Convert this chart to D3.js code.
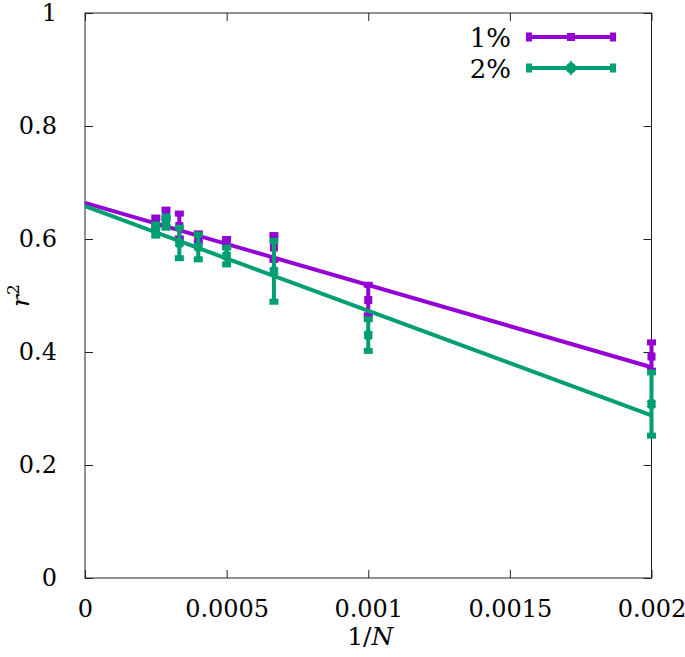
<!DOCTYPE html>
<html><head><meta charset="utf-8">
<script src="https://cdn.jsdelivr.net/npm/d3@7"></script>
<style>body{margin:0;background:#fff}svg{display:block}text{font-family:"DejaVu Serif","Liberation Serif",serif;fill:#000}</style>
</head><body>
<script>
// Data
const invN = [0.00025, 0.000286, 0.000333, 0.0004, 0.0005, 0.000667, 0.001, 0.002];
const r2_1 = [0.630, 0.644, 0.623, 0.602, 0.593, 0.585, 0.492, 0.392];
const err_1 = [0.008, 0.008, 0.022, 0.008, 0.007, 0.022, 0.027, 0.025];
const r2_2 = [0.616, 0.630, 0.593, 0.586, 0.570, 0.543, 0.430, 0.308];
const err_2 = [0.010, 0.010, 0.027, 0.022, 0.015, 0.054, 0.028, 0.056];
const fitX = [0, 0.002];
const fit_1 = [0.664, 0.373];
const fit_2 = [0.658, 0.288];
const xTicks = [0, 0.0005, 0.001, 0.0015, 0.002];
const xTickLabels = ["0", "0.0005", "0.001", "0.0015", "0.002"];
const yTicks = [0, 0.2, 0.4, 0.6, 0.8, 1];
const yTickLabels = ["0", "0.2", "0.4", "0.6", "0.8", "1"];
const seriesNames = ["1%", "2%"];
const colors = ["#9400d3", "#009e73"];

const FONT = 24;
const W = 685, H = 657;
const L = 85, R = 651.5, T = 13, B = 578;
const svg = d3.select("body").append("svg").attr("width", W).attr("height", H);
const x = d3.scaleLinear().domain([0, 0.002]).range([L, R]);
const y = d3.scaleLinear().domain([0, 1]).range([B, T]);

// frame
svg.append("rect").attr("x", L).attr("y", T).attr("width", R - L).attr("height", B - T)
  .attr("fill", "none").attr("stroke", "#222").attr("stroke-width", 1);

const tl = 8;
// x ticks
const xa = svg.append("g").attr("transform", `translate(0,${B})`)
  .call(d3.axisBottom(x).tickValues(xTicks).tickSizeInner(-tl).tickSizeOuter(0).tickPadding(tl + 14)
    .tickFormat((d, i) => xTickLabels[i]));
xa.select(".domain").remove();
xa.attr("font-family", null);
xa.selectAll("text").attr("font-size", FONT);
xa.selectAll("line").attr("stroke", "#222");
const xt = svg.append("g").attr("transform", `translate(0,${T})`)
  .call(d3.axisTop(x).tickValues(xTicks).tickSizeInner(-tl).tickSizeOuter(0).tickFormat(""));
xt.select(".domain").remove(); xt.selectAll("line").attr("stroke", "#222");

// y ticks
const ya = svg.append("g").attr("transform", `translate(${L},0)`)
  .call(d3.axisLeft(y).tickValues(yTicks).tickSizeInner(-tl).tickSizeOuter(0).tickPadding(tl + 20)
    .tickFormat((d, i) => yTickLabels[i]));
ya.select(".domain").remove();
ya.attr("font-family", null);
ya.selectAll("text").attr("font-size", FONT);
ya.selectAll("line").attr("stroke", "#222");
const yr = svg.append("g").attr("transform", `translate(${R},0)`)
  .call(d3.axisRight(y).tickValues(yTicks).tickSizeInner(-tl).tickSizeOuter(0).tickFormat(""));
yr.select(".domain").remove(); yr.selectAll("line").attr("stroke", "#222");

// axis labels
const xl = svg.append("text").attr("x", (L + R) / 2 + 2).attr("y", 645).attr("text-anchor", "middle").attr("font-size", FONT + 1);
xl.append("tspan").text("1/");
xl.append("tspan").attr("font-style", "italic").text("N");
const yl = svg.append("text").attr("transform", `translate(29,${(T + B) / 2}) rotate(-90)`).attr("text-anchor", "middle").attr("font-size", FONT + 1);
yl.append("tspan").attr("font-style", "italic").text("r");
yl.append("tspan").attr("font-size", 17).attr("dy", -10).text("2");

const line = d3.line().x(d => x(d[0])).y(d => y(d[1]));
const sets = [[r2_1, err_1, fit_1], [r2_2, err_2, fit_2]];

function marker(g, cx, cy, k, col) {
  if (k === 0) {
    g.append("rect").attr("x", cx - 4).attr("y", cy - 4).attr("width", 8).attr("height", 8).attr("fill", col);
  } else {
    g.append("path").attr("d", d3.symbol().type(d3.symbolDiamond).size(70)()).attr("transform", `translate(${cx},${cy})`).attr("fill", col);
    g.append("path").attr("d", d3.symbol().type(d3.symbolCross).size(60)()).attr("transform", `translate(${cx},${cy}) rotate(45)`).attr("fill", col);
  }
}

sets.forEach(([vals, errs, fit], k) => {
  const col = colors[k];
  const g = svg.append("g");
  invN.forEach((xv, i) => {
    const px = x(xv), y1 = y(vals[i] + errs[i]), y0 = y(vals[i] - errs[i]);
    g.append("line").attr("x1", px).attr("x2", px).attr("y1", y1).attr("y2", y0).attr("stroke", col).attr("stroke-width", 4);
    [y1, y0].forEach(yy => g.append("rect").attr("x", px - 4.5).attr("y", yy - 3).attr("width", 9).attr("height", 6).attr("fill", col));
    marker(g, px, y(vals[i]), k, col);
  });
  g.append("path").datum(fitX.map((v, i) => [v, fit[i]])).attr("d", line)
    .attr("fill", "none").attr("stroke", col).attr("stroke-width", 4);

  // legend
  const ly = 37 + k * 31;
  svg.append("text").attr("x", 511).attr("y", ly + 10).attr("text-anchor", "end").attr("font-size", FONT + 2).text(seriesNames[k]);
  svg.append("line").attr("x1", 529).attr("x2", 613).attr("y1", ly).attr("y2", ly).attr("stroke", col).attr("stroke-width", 4);
  [529, 613].forEach(px => svg.append("rect").attr("x", px - 3).attr("y", ly - 4.5).attr("width", 6).attr("height", 9).attr("fill", col));
  marker(svg, 571, ly, k, col);
});
</script>
</body></html>
